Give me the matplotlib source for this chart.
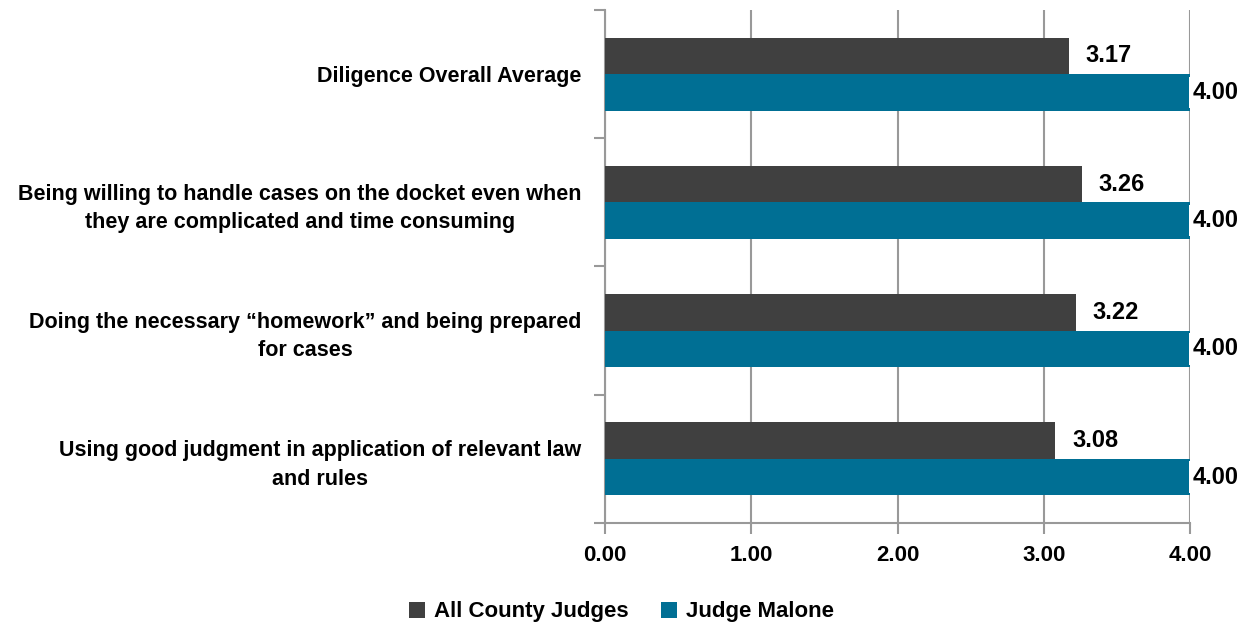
import matplotlib
matplotlib.use("Agg")
import matplotlib.pyplot as plt
import numpy as np

categories = [
    "Diligence Overall Average",
    "Being willing to handle cases on the docket even when\nthey are complicated and time consuming",
    "Doing the necessary \u201chomework\u201d and being prepared\nfor cases",
    "Using good judgment in application of relevant law\nand rules",
]
all_county = [3.17, 3.26, 3.22, 3.08]
malone = [4.00, 4.00, 4.00, 4.00]
series_names = ["All County Judges", "Judge Malone"]
xticks = [0, 1, 2, 3, 4]

GRAY = "#404040"
TEAL = "#006f94"
LINE = "#999999"

plt.rcParams["font.family"] = ["Liberation Sans", "DejaVu Sans"]
plt.rcParams["font.weight"] = "bold"

fig = plt.figure(figsize=(12.43, 6.27), dpi=100)
ax = fig.add_axes([605 / 1243, 1 - 523 / 627, 585 / 1243, 513 / 627])

y = np.arange(len(categories))
h = 0.285
b1 = ax.barh(y - h / 2, all_county, height=h, color=GRAY, label=series_names[0], zorder=3)
b2 = ax.barh(y + h / 2, malone, height=h, color=TEAL, label=series_names[1], zorder=3)

ax.set_xlim(0, 4)
ax.set_ylim(len(categories) - 0.5, -0.5)
ax.set_xticks(xticks)
ax.set_xticklabels([f"{v:.2f}" for v in xticks], fontsize=16, fontweight="bold")
ax.set_yticks(y)
ax.set_yticklabels(categories, fontsize=15.5, fontweight="bold",
                   multialignment="center", linespacing=1.45)
ax.set_yticks(np.arange(len(categories) + 1) - 0.5, minor=True)
ax.tick_params(axis="y", which="major", length=0, pad=17)
ax.tick_params(axis="y", which="minor", length=8, width=1.5, color=LINE)
ax.tick_params(axis="x", length=8, width=1.5, color=LINE, pad=8)

ax.grid(axis="x", color=LINE, linewidth=1.5, zorder=0)
for s in ["top", "right"]:
    ax.spines[s].set_visible(False)
for s in ["left", "bottom"]:
    ax.spines[s].set_color(LINE)
    ax.spines[s].set_linewidth(1.5)

box = dict(facecolor="white", edgecolor="none", pad=3)
for rect, v in zip(b1, all_county):
    ax.annotate(f"{v:.2f}", (rect.get_width(), rect.get_y() + rect.get_height() / 2),
                xytext=(12, 0), textcoords="offset points", ha="left", va="center",
                fontsize=17, fontweight="bold", bbox=box, zorder=4, annotation_clip=False)
for rect, v in zip(b2, malone):
    ax.annotate(f"{v:.2f}", (rect.get_width(), rect.get_y() + rect.get_height() / 2),
                xytext=(2, 0), textcoords="offset points", ha="left", va="center",
                fontsize=17, fontweight="bold", bbox=box, zorder=4, annotation_clip=False)

fig.legend(loc="center", bbox_to_anchor=(0.5, 1 - 612 / 627), ncol=2, frameon=False,
           handlelength=0.7, handleheight=0.7, columnspacing=1.5,
           handletextpad=0.4, prop={"weight": "bold", "size": 16})

fig.savefig("out.png", dpi=100)
